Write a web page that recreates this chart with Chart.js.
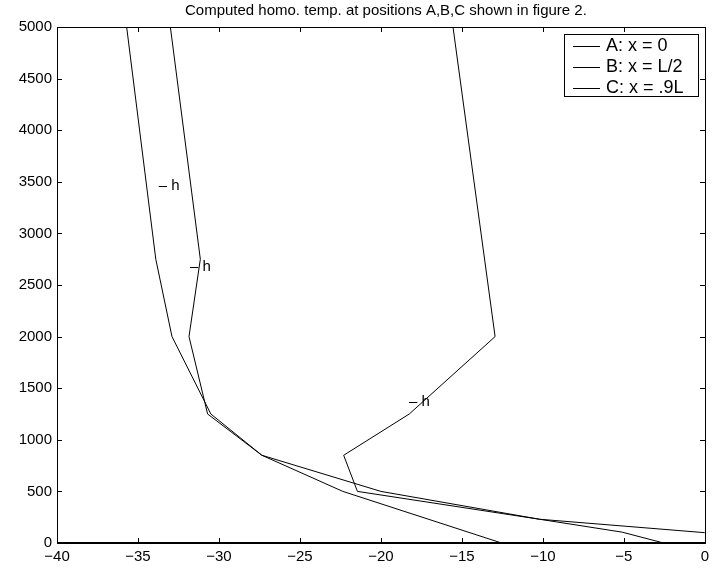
<!DOCTYPE html>
<html>
<head>
<meta charset="utf-8">
<script src="https://cdn.jsdelivr.net/npm/chart.js@4/dist/chart.umd.min.js"></script>
<style>
  html, body { margin: 0; padding: 0; background: #fff; }
</style>
</head>
<body>
<canvas id="tempChart" width="714" height="571"></canvas>
<script>
const chartTitle = 'Computed homo. temp. at positions A,B,C shown in figure 2.';
const seriesNames = ['A: x = 0', 'B: x = L/2', 'C: x = .9L'];

// depth (y) and temperature (x) for each position
const depthA = [5000, 2750, 2000, 1250, 850, 500, 0];
const tempA = [-35.7, -33.9, -32.9, -30.5, -27.35, -22.35, -12.55];

const depthB = [5000, 2750, 2000, 1250, 850, 500, 230, 100];
const tempB = [-33.0, -31.15, -31.85, -30.7, -27.35, -20.0, -10.2, 0];

const depthC = [5000, 2000, 1250, 850, 500, 230, 105, 0];
const tempC = [-15.55, -12.95, -18.25, -22.3, -21.45, -10.2, -5.1, -2.55];

const xTicks = [-40, -35, -30, -25, -20, -15, -10, -5, 0];
const yTicks = [0, 500, 1000, 1500, 2000, 2500, 3000, 3500, 4000, 4500, 5000];

// "- h" markers
const hLabelText = '\u2013 h';
const hLabelTemp = [-33.72, -31.79, -18.26];
const hLabelDepth = [3460, 2680, 1365];

const FONT = 'Liberation Sans, Arial, Helvetica, sans-serif';

function toPoints(xs, ys) {
  return xs.map((x, i) => ({ x: x, y: ys[i] }));
}

const frameAndTicks = {
  id: 'frameAndTicks',
  afterDatasetsDraw(chart) {
    const { ctx, chartArea: a, scales: { x, y } } = chart;
    const len = 5;
    const L = Math.round(a.left), R = Math.round(a.right);
    const T = Math.round(a.top), B = Math.round(a.bottom);
    ctx.save();
    ctx.strokeStyle = '#000';
    ctx.lineWidth = 1;
    ctx.beginPath();
    ctx.moveTo(L + 0.5, B); ctx.lineTo(L + 0.5, T + 0.5);
    ctx.lineTo(R + 0.5, T + 0.5); ctx.lineTo(R + 0.5, B);
    xTicks.forEach(v => {
      const px = Math.round(x.getPixelForValue(v)) + 0.5;
      ctx.moveTo(px, B); ctx.lineTo(px, B - len);
      ctx.moveTo(px, T); ctx.lineTo(px, T + len);
    });
    yTicks.forEach(v => {
      const py = Math.round(y.getPixelForValue(v)) + 0.5;
      ctx.moveTo(L, py); ctx.lineTo(L + len, py);
      ctx.moveTo(R, py); ctx.lineTo(R - len, py);
    });
    ctx.stroke();
    // heavier bottom axis line
    ctx.lineWidth = 2;
    ctx.beginPath();
    ctx.moveTo(L, B); ctx.lineTo(R + 1, B);
    ctx.stroke();
    ctx.lineWidth = 1;

    // h markers
    ctx.fillStyle = '#000';
    ctx.font = '15px ' + FONT;
    ctx.textAlign = 'left';
    ctx.textBaseline = 'middle';
    hLabelTemp.forEach((t, i) => {
      ctx.fillText(hLabelText, x.getPixelForValue(t), y.getPixelForValue(hLabelDepth[i]));
    });

    // title
    ctx.textAlign = 'center';
    ctx.fillText(chartTitle, (a.left + a.right) / 2 + 5, 11);

    // legend box
    const bw = 134, bh = 62;
    const bx = R - 7 - bw, by = T + 7;
    ctx.fillStyle = '#fff';
    ctx.fillRect(bx, by, bw, bh);
    ctx.strokeRect(bx + 0.5, by + 0.5, bw, bh);
    ctx.fillStyle = '#000';
    ctx.font = '18px ' + FONT;
    ctx.textAlign = 'left';
    chart.data.datasets.forEach((ds, i) => {
      const ry = by + 11.5 + i * 21;
      ctx.beginPath();
      ctx.moveTo(bx + 9, Math.round(ry) + 0.5);
      ctx.lineTo(bx + 36, Math.round(ry) + 0.5);
      ctx.stroke();
      ctx.fillText(ds.label, bx + 42, ry + 1);
    });
    ctx.restore();
  }
};

const lineStyle = {
  borderColor: '#000',
  borderWidth: 1,
  pointRadius: 0,
  tension: 0,
  fill: false,
  showLine: true
};

const tempChart = new Chart(document.getElementById('tempChart'), {
  type: 'line',
  data: {
    datasets: [
      Object.assign({ label: seriesNames[0], data: toPoints(tempA, depthA) }, lineStyle),
      Object.assign({ label: seriesNames[1], data: toPoints(tempB, depthB) }, lineStyle),
      Object.assign({ label: seriesNames[2], data: toPoints(tempC, depthC) }, lineStyle)
    ]
  },
  options: {
    responsive: false,
    animation: false,
    devicePixelRatio: 1,
    events: [],
    layout: { padding: { left: 0, right: 4, top: 27, bottom: 0 } },
    plugins: {
      legend: { display: false },
      tooltip: { enabled: false },
      title: { display: false }
    },
    scales: {
      x: {
        type: 'linear',
        min: -40,
        max: 0,
        afterBuildTicks: s => { s.ticks = xTicks.map(v => ({ value: v })); },
        afterFit: s => { s.height = 28; },
        grid: { display: false, drawTicks: false },
        border: { display: false },
        ticks: {
          color: '#000',
          font: { family: FONT, size: 15 },
          padding: 5,
          maxRotation: 0,
          autoSkip: false,
          callback: v => String(v).replace('-', '\u2212')
        }
      },
      y: {
        type: 'linear',
        min: 0,
        max: 5000,
        afterBuildTicks: s => { s.ticks = yTicks.map(v => ({ value: v })); },
        afterFit: s => { s.width = 57; },
        grid: { display: false, drawTicks: false },
        border: { display: false },
        ticks: {
          color: '#000',
          font: { family: FONT, size: 15 },
          padding: 5,
          autoSkip: false,
          callback: v => String(v)
        }
      }
    }
  },
  plugins: [frameAndTicks]
});
</script>
</body>
</html>
